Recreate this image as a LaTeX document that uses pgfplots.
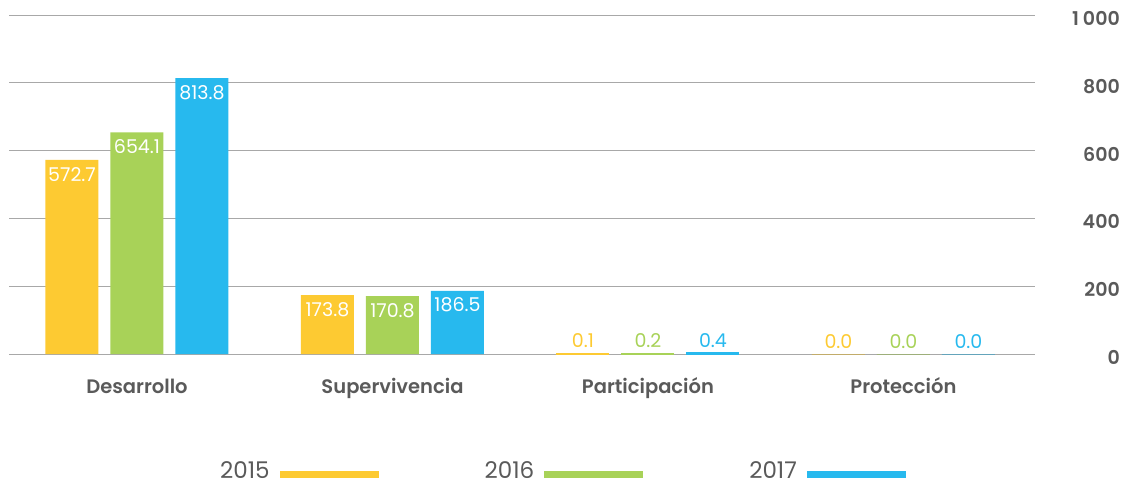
\documentclass[border=0pt]{standalone}
\usepackage{fontspec}
\setmainfont{Poppins}
\newfontfamily\medfont{Poppins SemiBold}
\usepackage{pgfplots}
\pgfplotsset{compat=1.18}
\definecolor{cy}{HTML}{FDCA32}
\definecolor{cg}{HTML}{A8D258}
\definecolor{cb}{HTML}{27B9EE}
\definecolor{tg}{HTML}{5A5A5A}
\definecolor{gl}{HTML}{A8A8A8}
\newcommand\vfont{\fontsize{19bp}{22bp}\selectfont}
\pgfkeys{/pgf/number format/assume math mode=true}
\pgfplotsset{
  bigl/.style={nodes near coords={\pgfmathprintnumber[fixed,fixed zerofill,precision=1]{\pgfplotspointmeta}},
    every node near coord/.append style={text=white, anchor=north, yshift=-7bp, inner sep=0pt, font=\vfont}},
  smalll/.style={nodes near coords={\pgfmathprintnumber[fixed,fixed zerofill,precision=1]{\pgfplotspointmeta}},
    every node near coord/.append style={text=#1, anchor=base, yshift=6bp, inner sep=0pt, font=\vfont}},
}
\begin{document}
\begin{tikzpicture}
\useasboundingbox (0,0) rectangle (1127bp,484bp);
\begin{axis}[
  at={(9bp,130bp)}, anchor=south west,
  scale only axis, width=1026bp, height=339bp,
  clip=false,
  ybar, bar width=53bp,
  xmin=-0.501, xmax=3.515, ymin=0, ymax=1000,
  ytick={0,200,400,600,800,1000},
  yticklabels={0,200,400,600,800,1\hspace{4bp}000},
  xtick={0,1,2,3},
  xticklabels={Desarrollo,Supervivencia,Participación,Protección},
  yticklabel pos=right,
  ymajorgrids, grid style={gl, line width=0.9bp},
  axis line style={draw=none},
  major tick length=0pt,
  yticklabel style={font=\medfont\fontsize{19bp}{22bp}\selectfont, text=tg, anchor=base east, inner sep=0pt, xshift=85bp, yshift=-10.5bp},
  xticklabel style={font=\medfont\fontsize{19.5bp}{22bp}\selectfont, text=tg, anchor=base, inner sep=0pt, yshift=-39bp},
  legend plot pos=right,
  legend style={legend columns=3, draw=none, fill=none, at={(0.540,-0.344)}, anchor=center,
     font=\fontsize{23bp}{26bp}\selectfont, text=tg, nodes={inner sep=0pt},
     /tikz/every odd column/.style={column sep=10bp},
     /tikz/every even column/.style={column sep=106bp}},
]
% 2015
\addplot[fill=cy, draw=none, bar shift=-65bp, bigl,
  legend image code/.code={\fill[cy] (0bp,-7bp) rectangle (99bp,0bp);}]
  coordinates {(0,572.7) (1,173.8)};
\addlegendentry{2015}
% 2016
\addplot[fill=cg, draw=none, bar shift=0bp, bigl,
  legend image code/.code={\fill[cg] (0bp,-7bp) rectangle (99bp,0bp);}]
  coordinates {(0,654.1) (1,170.8)};
\addlegendentry{2016}
% 2017
\addplot[fill=cb, draw=none, bar shift=65bp, bigl,
  legend image code/.code={\fill[cb] (0bp,-7bp) rectangle (99bp,0bp);}]
  coordinates {(0,813.8) (1,186.5)};
\addlegendentry{2017}
% small values
\addplot[fill=cy, draw=cy, line width=2.8bp, bar shift=-65bp, bar width=50.2bp, smalll=cy, forget plot] coordinates {(2,0.1)};
\addplot[fill=cg, draw=cg, line width=2.8bp, bar shift=0bp, bar width=50.2bp, smalll=cg, forget plot] coordinates {(2,0.2)};
\addplot[fill=cb, draw=cb, line width=2.8bp, bar shift=65bp, bar width=50.2bp, smalll=cb, forget plot] coordinates {(2,0.4)};
\addplot[fill=cy, draw=cy!60!gray, line width=0.9bp, bar shift=-65bp, smalll=cy, forget plot] coordinates {(3,0.0)};
\addplot[fill=cg, draw=cg!60!gray, line width=0.9bp, bar shift=0bp, smalll=cg, forget plot] coordinates {(3,0.0)};
\addplot[fill=cb, draw=cb!60!gray, line width=0.9bp, bar shift=65bp, smalll=cb, forget plot] coordinates {(3,0.0)};
\end{axis}
\end{tikzpicture}
\end{document}
